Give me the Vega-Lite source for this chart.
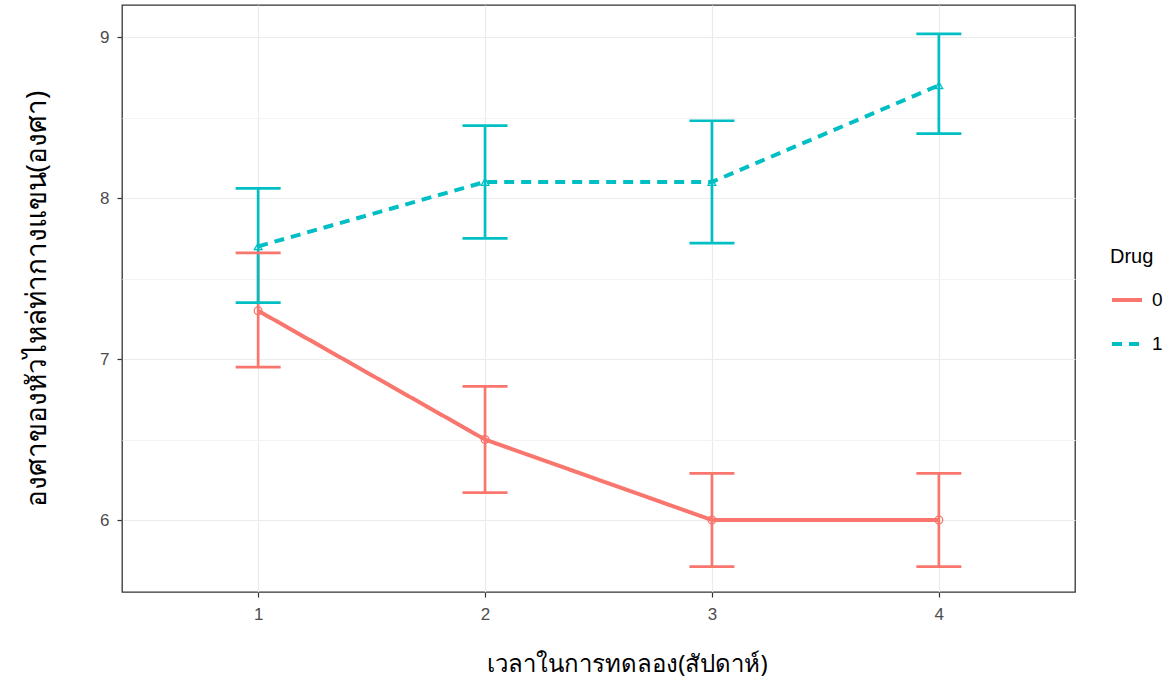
{
  "$schema": "https://vega.github.io/schema/vega-lite/v6.json",
  "width": 953,
  "height": 587,
  "autosize": {"type": "none"},
  "padding": {"left": 122, "top": 5, "right": 98, "bottom": 92},
  "background": "white",
  "config": {
    "view": {"stroke": "#333333", "strokeWidth": 1.3},
    "axis": {
      "domain": false,
      "labelFont": "Liberation Sans",
      "labelFontSize": 17,
      "labelColor": "#4D4D4D",
      "tickColor": "#333333",
      "tickSize": 5,
      "tickWidth": 1.2,
      "gridColor": "#EBEBEB",
      "gridWidth": 1.2,
      "titleFont": "Noto Sans",
      "titleFontWeight": "normal",
      "titleColor": "#000000"
    },
    "legend": {
      "titleFont": "Liberation Sans",
      "titleFontSize": 20,
      "titleFontWeight": "normal",
      "titleColor": "#000000",
      "labelFont": "Liberation Sans",
      "labelFontSize": 19,
      "labelColor": "#000000"
    }
  },
  "data": {
    "values": [
      {"week": 1, "Drug": "0", "mean": 7.3, "lo": 6.95, "hi": 7.66},
      {"week": 2, "Drug": "0", "mean": 6.5, "lo": 6.17, "hi": 6.83},
      {"week": 3, "Drug": "0", "mean": 6.0, "lo": 5.71, "hi": 6.29},
      {"week": 4, "Drug": "0", "mean": 6.0, "lo": 5.71, "hi": 6.29},
      {"week": 1, "Drug": "1", "mean": 7.7, "lo": 7.35, "hi": 8.06},
      {"week": 2, "Drug": "1", "mean": 8.1, "lo": 7.75, "hi": 8.45},
      {"week": 3, "Drug": "1", "mean": 8.1, "lo": 7.72, "hi": 8.48},
      {"week": 4, "Drug": "1", "mean": 8.7, "lo": 8.4, "hi": 9.02}
    ]
  },
  "encoding": {
    "x": {
      "field": "week", "type": "quantitative",
      "scale": {"domain": [0.4, 4.6], "nice": false, "zero": false},
      "axis": {"values": [1, 2, 3, 4], "format": "d", "title": "เวลาในการทดลอง(สัปดาห์)", "titleFontSize": 24, "labelPadding": 9, "titlePadding": 30, "titleX": 505}
    },
    "color": {
      "field": "Drug", "type": "nominal",
      "scale": {"domain": ["0", "1"], "range": ["#F8766D", "#00BFC4"]},
      "legend": null
    }
  },
  "layer": [
    {
      "mark": {"type": "line", "strokeWidth": 4},
      "encoding": {
        "y": {
          "field": "mean", "type": "quantitative",
          "scale": {"domain": [5.553, 9.199], "nice": false, "zero": false},
          "axis": {
            "values": [5.5, 6, 6.5, 7, 7.5, 8, 8.5, 9],
            "labelExpr": "datum.value % 1 == 0 ? format(datum.value, 'd') : ''",
            "gridColor": {"condition": {"test": "datum.value % 1 != 0", "value": "#F3F3F3"}, "value": "#EBEBEB"},
            "tickOpacity": {"condition": {"test": "datum.value % 1 != 0", "value": 0}, "value": 1},
            "title": "องศาของหัวไหล่ท่ากางแขน(องศา)",
            "titleFontSize": 28,
            "labelPadding": 8,
            "titlePadding": 48
          }
        },
        "color": {
          "field": "Drug", "type": "nominal",
          "legend": {
            "title": "Drug",
            "orient": "none",
            "legendX": 988,
            "legendY": 242,
            "symbolType": "stroke",
            "symbolStrokeWidth": 4,
            "symbolSize": 900,
            "rowPadding": 17,
            "titlePadding": 16,
            "labelOffset": 8
          }
        },
        "strokeDash": {
          "field": "Drug", "type": "nominal",
          "scale": {"domain": ["0", "1"], "range": [[1, 0], [10, 7]]},
          "legend": null
        }
      }
    },
    {
      "transform": [{"filter": "datum.Drug == '0'"}],
      "mark": {"type": "point", "shape": "circle", "filled": false, "strokeWidth": 1.3, "size": 60, "opacity": 1},
      "encoding": {"y": {"field": "mean", "type": "quantitative"}}
    },
    {
      "transform": [{"filter": "datum.Drug == '1'"}],
      "mark": {"type": "point", "shape": "triangle-up", "filled": false, "strokeWidth": 1.3, "size": 60, "opacity": 1},
      "encoding": {"y": {"field": "mean", "type": "quantitative"}}
    },
    {
      "mark": {"type": "rule", "strokeWidth": 2.7},
      "encoding": {
        "y": {"field": "lo", "type": "quantitative"},
        "y2": {"field": "hi"}
      }
    },
    {
      "mark": {"type": "tick", "orient": "horizontal", "size": 45, "thickness": 2.7, "opacity": 1},
      "encoding": {"y": {"field": "lo", "type": "quantitative"}}
    },
    {
      "mark": {"type": "tick", "orient": "horizontal", "size": 45, "thickness": 2.7, "opacity": 1},
      "encoding": {"y": {"field": "hi", "type": "quantitative"}}
    }
  ]
}
